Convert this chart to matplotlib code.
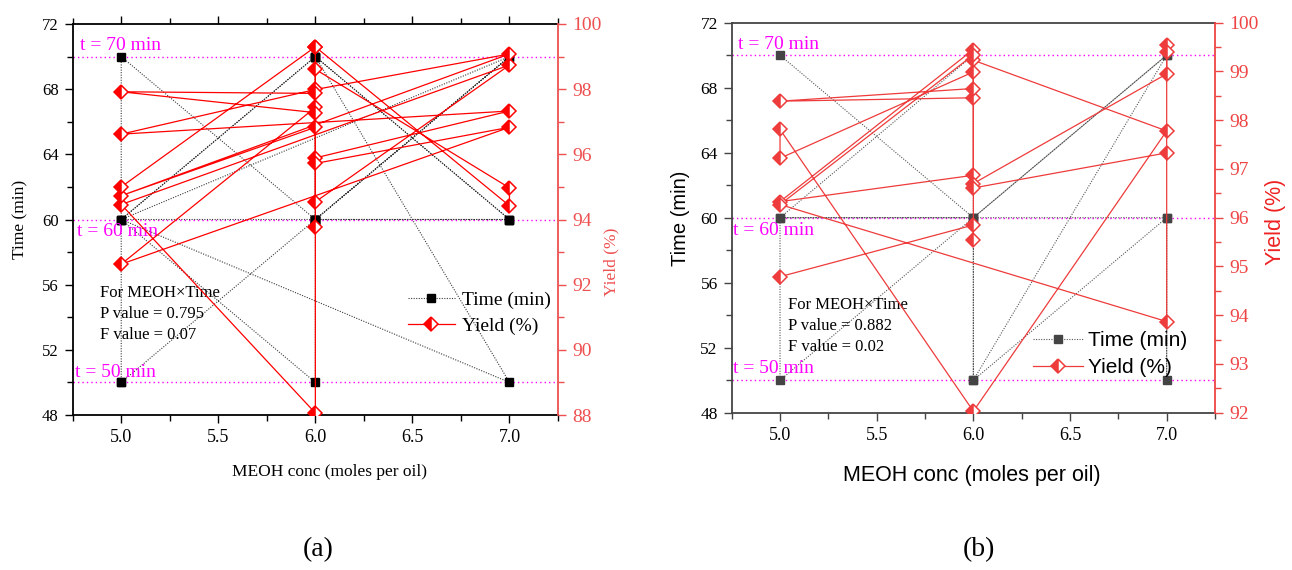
import matplotlib
matplotlib.use("Agg")
import matplotlib.pyplot as plt
from matplotlib.lines import Line2D
from matplotlib.ticker import MultipleLocator

SERIF = "Liberation Serif"
SANS = "Liberation Sans"

# ---------------- data: panel (a) ----------------
a_time_meoh = [5, 5, 6, 7, 6, 5, 6, 7, 6, 6, 6, 7, 5, 6, 7, 7, 6, 7, 5, 6, 6, 6, 5]
a_time_min = [50, 70, 60, 70, 60, 60, 70, 60, 60, 60, 70, 50, 60, 70, 60, 60, 60, 70, 60, 50, 70, 60, 50]
a_yield_meoh = [6, 6, 6, 5, 7, 6, 6, 7, 5, 6, 7, 5, 6, 6, 7, 5, 6, 6, 5, 6, 6, 7, 7, 6, 5]
a_yield_pct = [99.30, 93.77, 88.06, 94.46, 98.74, 94.54, 95.89, 97.33, 96.62, 97.99,
               99.08, 94.73, 96.83, 95.72, 96.83, 92.63, 97.44, 97.28, 97.92, 97.87,
               98.61, 94.97, 94.42, 99.30, 95.00]
a_stats = ["For MEOH\u00d7Time", "P value = 0.795", "F value = 0.07"]

# ---------------- data: panel (b) ----------------
b_time_meoh = [5, 6, 5, 6, 6, 7, 7, 7, 6, 6, 7, 6, 5, 5, 7]
b_time_min = [70, 60, 60, 70, 50, 60, 50, 60, 60, 50, 70, 60, 60, 50, 70]
b_yield_meoh = [5, 6, 6, 6, 5, 6, 6, 5, 5, 6, 7, 6, 6, 5, 6, 6, 7, 7, 7, 7, 5, 6, 6, 7]
b_yield_pct = [94.79, 95.85, 95.55, 98.46, 98.39, 98.65, 98.99, 97.22, 97.81, 92.03,
               97.78, 99.23, 99.45, 96.33, 96.87, 96.70, 98.95, 99.54, 99.40, 93.87,
               96.27, 99.34, 96.61, 97.33]
b_stats = ["For MEOH\u00d7Time", "P value = 0.882", "F value = 0.02"]

# shared axis settings
x_ticks = [5.0, 5.5, 6.0, 6.5, 7.0]
x_ticklabels = ["5.0", "5.5", "6.0", "6.5", "7.0"]
time_ticks = [48, 52, 56, 60, 64, 68, 72]
ref_times = [70, 60, 50]
ref_labels = ["t = 70 min", "t = 60 min", "t = 50 min"]

W, H = 1292, 570
fig = plt.figure(figsize=(W / 100, H / 100), dpi=100)


def rect(x0, y0, x1, y1):
    return [x0 / W, 1 - y1 / H, (x1 - x0) / W, (y1 - y0) / H]


MAGENTA = "#FF00FF"
DOTS = (0, (1, 1.3))


def panel(box, tx, ty, yx, yy, ylim2, y2major, y2minor, cfg):
    ax = fig.add_axes(rect(*box))
    ax2 = ax.twinx()
    ax.set_xlim(4.75, 7.25)
    ax.set_ylim(48, 72)
    ax2.set_ylim(*ylim2)

    # reference time levels
    for t in ref_times:
        ax.axhline(t, color=MAGENTA, lw=1.0, ls=(0, (1, 2.2)), zorder=1)

    # time series
    ax.plot(tx, ty, color=cfg["time_line"], lw=0.8, ls=DOTS,
            marker="s", ms=cfg["sq"], mfc=cfg["time_color"], mec=cfg["time_color"],
            zorder=3)
    # yield series
    ax2.plot(yx, yy, color=cfg["red"], lw=0.9, marker="D", ms=7.5,
             fillstyle="left", mfc=cfg["red"], mfcalt="white", mec=cfg["red"],
             mew=1.1, zorder=4)

    # x axis
    ax.set_xticks(x_ticks)
    ax.set_xticklabels(x_ticklabels, fontfamily=SERIF, fontsize=13)
    ax.xaxis.set_minor_locator(MultipleLocator(0.25))
    ax.set_yticks(time_ticks)
    ax.set_yticklabels([str(v) for v in time_ticks], fontfamily=SERIF,
                       fontsize=cfg["lfs"])
    ax.yaxis.set_minor_locator(MultipleLocator(2))
    ax.tick_params(axis="both", which="major", direction="out", length=6,
                   width=1.0, color=cfg["axis"], pad=4)
    ax.tick_params(axis="both", which="minor", direction="out", length=4,
                   width=1.0, color=cfg["axis"])
    if cfg["top_ticks"]:
        ax.tick_params(axis="x", which="both", top=True, labeltop=False)
    for s in ["left", "bottom", "top"]:
        ax.spines[s].set_color(cfg["axis"])
        ax.spines[s].set_linewidth(1.3)
    ax.spines["right"].set_visible(False)

    # yield axis
    ax2.yaxis.set_major_locator(MultipleLocator(y2major))
    ax2.yaxis.set_minor_locator(MultipleLocator(y2minor))
    ax2.tick_params(axis="y", which="major", direction="out", length=6,
                    width=1.0, color=cfg["red_axis"], labelcolor=cfg["red_axis"],
                    labelsize=14, pad=4)
    ax2.tick_params(axis="y", which="minor", direction="out", length=4,
                    width=1.0, color=cfg["red_axis"])
    for lab in ax2.get_yticklabels():
        lab.set_fontfamily(SERIF)
    for s in ["left", "bottom", "top"]:
        ax2.spines[s].set_visible(False)
    ax2.spines["right"].set_color(cfg["red_axis"])
    ax2.spines["right"].set_linewidth(1.3)

    # reference labels
    for (lx, ly), lab in zip(cfg["ref_pos"], ref_labels):
        ax.text(lx, ly, lab, color=MAGENTA, fontfamily=SERIF, fontsize=14,
                va="center", ha="left", zorder=5)
    # statistics note
    for (sx, sy), lab in zip(cfg["stat_pos"], cfg["stats"]):
        ax.text(sx, sy, lab, color="black", fontfamily=SERIF, fontsize=12,
                va="center", ha="left", zorder=5)

    # legend
    h_time = Line2D([], [], color=cfg["time_line"], lw=0.8, ls=DOTS,
                    marker="s", ms=cfg["sq"], mfc=cfg["time_color"],
                    mec=cfg["time_color"])
    h_yield = Line2D([], [], color=cfg["red"], lw=0.9, marker="D", ms=7.5,
                     fillstyle="left", mfc=cfg["red"], mfcalt="white",
                     mec=cfg["red"], mew=1.1)
    ax2.legend([h_time, h_yield], ["Time (min)", "Yield (%)"],
               loc="upper left", bbox_to_anchor=cfg["leg_anchor"],
               bbox_transform=fig.transFigure, frameon=False,
               borderpad=0, borderaxespad=0,
               handlelength=cfg["hl"], handletextpad=cfg["htp"],
               labelspacing=cfg["ls"],
               prop={"family": cfg["leg_font"], "size": cfg["leg_size"]})
    return ax, ax2


cfg_a = dict(time_color="black", time_line="#3a3a3a", red="#FF0000",
             red_axis="#EE5050", axis="black",
             sq=6, lfs=12, top_ticks=True,
             ref_pos=[(4.79, 70.71), (4.77, 59.25), (4.762, 50.59)],
             stat_pos=[(4.89, 55.49), (4.89, 54.20), (4.89, 52.91)],
             stats=a_stats,
             leg_anchor=(408 / W, 1 - 291 / H), hl=2.4, htp=0.4, ls=0.42,
             leg_font=SERIF, leg_size=14)
cfg_b = dict(time_color="#444444", time_line="#555555", red="#EE3B3B",
             red_axis="#EE4444", axis="#444444",
             sq=6, lfs=12.5, top_ticks=False,
             ref_pos=[(4.784, 70.63), (4.755, 59.24), (4.755, 50.73)],
             stat_pos=[(5.039, 54.63), (5.039, 53.34), (5.039, 52.06)],
             stats=b_stats,
             leg_anchor=(1033 / W, 1 - 331 / H), hl=2.4, htp=0.25, ls=0.4,
             leg_font=SANS, leg_size=15)

panel((72.7, 24, 558, 415), a_time_meoh, a_time_min, a_yield_meoh, a_yield_pct,
      (88, 100), 2, 1, cfg_a)
panel((731.7, 22.7, 1215, 412.7), b_time_meoh, b_time_min, b_yield_meoh, b_yield_pct,
      (92, 100), 1, 0.5, cfg_b)


def ftxt(x, y, s, **kw):
    fig.text(x / W, 1 - y / H, s, ha="center", va="center", **kw)


# axis titles, panel (a)
ftxt(20, 219, "Time (min)", rotation=90, fontfamily=SERIF, fontsize=12.5)
ftxt(611, 262, "Yield (%)", rotation=90, fontfamily=SERIF, fontsize=12.5,
     color="#EE5050")
ftxt(330, 472, "MEOH conc (moles per oil)", fontfamily=SERIF, fontsize=12.5)
ftxt(318, 550, "(a)", fontfamily=SERIF, fontsize=20)

# axis titles, panel (b)
ftxt(680, 218, "Time (min)", rotation=90, fontfamily=SANS, fontsize=14.5)
ftxt(1276, 222, "Yield (%)", rotation=90, fontfamily=SANS, fontsize=15.5,
     color="#EE2222")
ftxt(972, 475, "MEOH conc (moles per oil)", fontfamily=SANS, fontsize=15.5)
ftxt(979, 550, "(b)", fontfamily=SERIF, fontsize=20)

fig.savefig("out.png", dpi=100)
